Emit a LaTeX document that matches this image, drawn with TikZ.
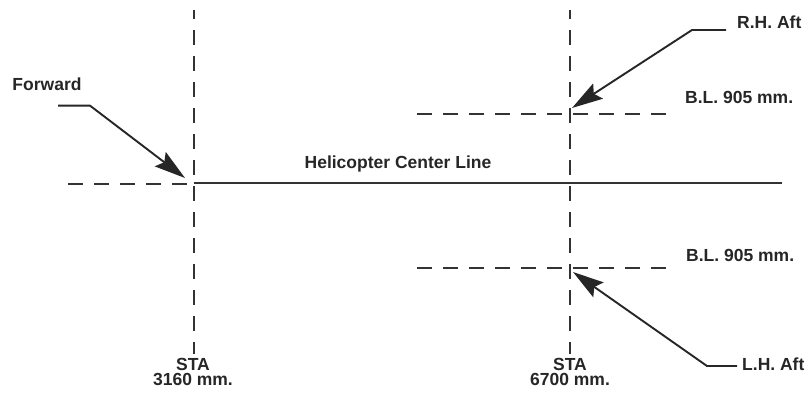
\documentclass[tikz,border=0pt]{standalone}
\usepackage{fontspec}
\setmainfont{Liberation Sans}
\usetikzlibrary{arrows.meta, positioning}

\begin{document}
\begin{tikzpicture}[
    x=1pt, y=-1pt,
    label/.style={font=\fontsize{17.5}{15}\selectfont\bfseries, text=black!85, inner sep=0pt},
    refline/.style={draw=black!80, line width=2pt, dash pattern=on 15pt off 11pt},
    centerline/.style={draw=black!80, line width=2.4pt},
    pointer/.style={draw=black!85, line width=1.9pt, -{Stealth[length=31pt, width=18pt, inset=5pt]}}
]
\useasboundingbox (0,0) rectangle (811,396);

% Station and buttock-line crossings
\coordinate (fwdtip) at (185,178);
\coordinate (rhtip) at (572,108);
\coordinate (lhtip) at (573,272);

% Station lines
\draw[refline, dash phase=6pt] (194,10) -- (194,354);
\draw[refline, dash phase=6pt] (570,10) -- (570,354);

% Center line and buttock lines
\draw[refline] (68,184) -- (194,184);
\draw[centerline] (194,183) -- (782,183);
\draw[refline] (417,114) -- (676,114);
\draw[refline] (417,268) -- (676,268);

% Labels
\node[label] (cl) at (398,164) {Helicopter Center Line};
\node[label] (fwd) at (47,84) {Forward};
\node[label, anchor=west] (rh) at (737,22) {R.H. Aft};
\node[label, anchor=west] (lh) at (742,364) {L.H. Aft};
\node[label, anchor=west] (blup) at (685,97) {B.L. 905 mm.};
\node[label, anchor=west] (bllow) at (686,255) {B.L. 905 mm.};
\node[label] (sta1) at (193,364) {STA};
\node[label, below=3pt of sta1] (num1) {3160 mm.};
\node[label] (sta2) at (570,364) {STA};
\node[label, below=3pt of sta2] (num2) {6700 mm.};

% Leaders
\draw[pointer] ([xshift=11pt,yshift=-15pt]fwd.south) -- ++(32,0) -- (fwdtip);
\draw[pointer] ([xshift=-11pt,yshift=-8pt]rh.west) -- ++(-34,0) -- (rhtip);
\draw[pointer] ([xshift=-5pt,yshift=-2pt]lh.west) -- ++(-30,0) -- (lhtip);

\end{tikzpicture}
\end{document}
